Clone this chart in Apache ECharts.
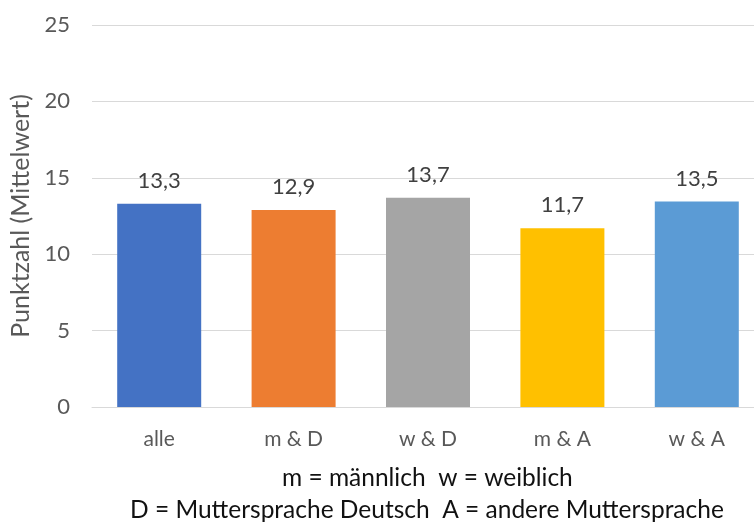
<!DOCTYPE html>
<html><head><meta charset="utf-8">
<script src="https://cdn.jsdelivr.net/npm/echarts@6/dist/echarts.min.js"></script>
<style>html,body{margin:0;padding:0;background:#fff;overflow:hidden}#c{width:772px;height:525px}</style>
</head><body><div id="c"></div>
<script>
const categories = ['alle', 'm & D', 'w & D', 'm & A', 'w & A'];
const values = [13.3, 12.9, 13.7, 11.7, 13.45];
const colors = ['#4472C4', '#ED7D31', '#A5A5A5', '#FFC000', '#5B9BD5'];
const yTicks = [0, 5, 10, 15, 20, 25];
const yAxisName = 'Punktzahl (Mittelwert)';
const noteLines = ['m = männlich  w = weiblich', 'D = Muttersprache Deutsch  A = andere Muttersprache'];

const F = 'Lato, "Noto Sans", sans-serif';
const chart = echarts.init(document.getElementById('c'), null, {renderer: 'canvas'});
chart.setOption({
  animation: false,
  textStyle: {fontFamily: F},
  graphic: [
    {type: 'text', left: 282, top: 466, style: {text: noteLines[0], fontFamily: F, fontSize: 24.5, fill: '#111'}},
    {type: 'text', left: 130, top: 498, style: {text: noteLines[1], fontFamily: F, fontSize: 24.5, fill: '#111'}}
  ],
  grid: {left: 92, width: 672, top: 25, height: 382, containLabel: false},
  xAxis: {
    type: 'category', data: categories,
    axisLine: {lineStyle: {color: '#D9D9D9', width: 1}},
    axisTick: {show: false},
    axisLabel: {color: '#595959', fontSize: 21, fontFamily: F, margin: 22}
  },
  yAxis: {
    type: 'value', min: yTicks[0], max: yTicks[yTicks.length - 1], interval: 5,
    name: yAxisName, nameLocation: 'middle', nameGap: 58,
    nameTextStyle: {color: '#595959', fontSize: 25, fontFamily: F},
    axisLine: {show: false}, axisTick: {show: false},
    axisLabel: {color: '#595959', fontSize: 22, fontFamily: F, margin: 22},
    splitLine: {lineStyle: {color: '#D9D9D9', width: 1}}
  },
  series: [{
    type: 'bar',
    data: values.map((v, i) => ({value: v, itemStyle: {color: colors[i]}})),
    barCategoryGap: '37.5%',
    label: {
      show: true, position: 'top', distance: 12,
      color: '#404040', fontSize: 22, fontFamily: F,
      formatter: p => (Math.round(p.value * 10) / 10).toFixed(1).replace('.', ',')
    }
  }]
});
</script></body></html>
